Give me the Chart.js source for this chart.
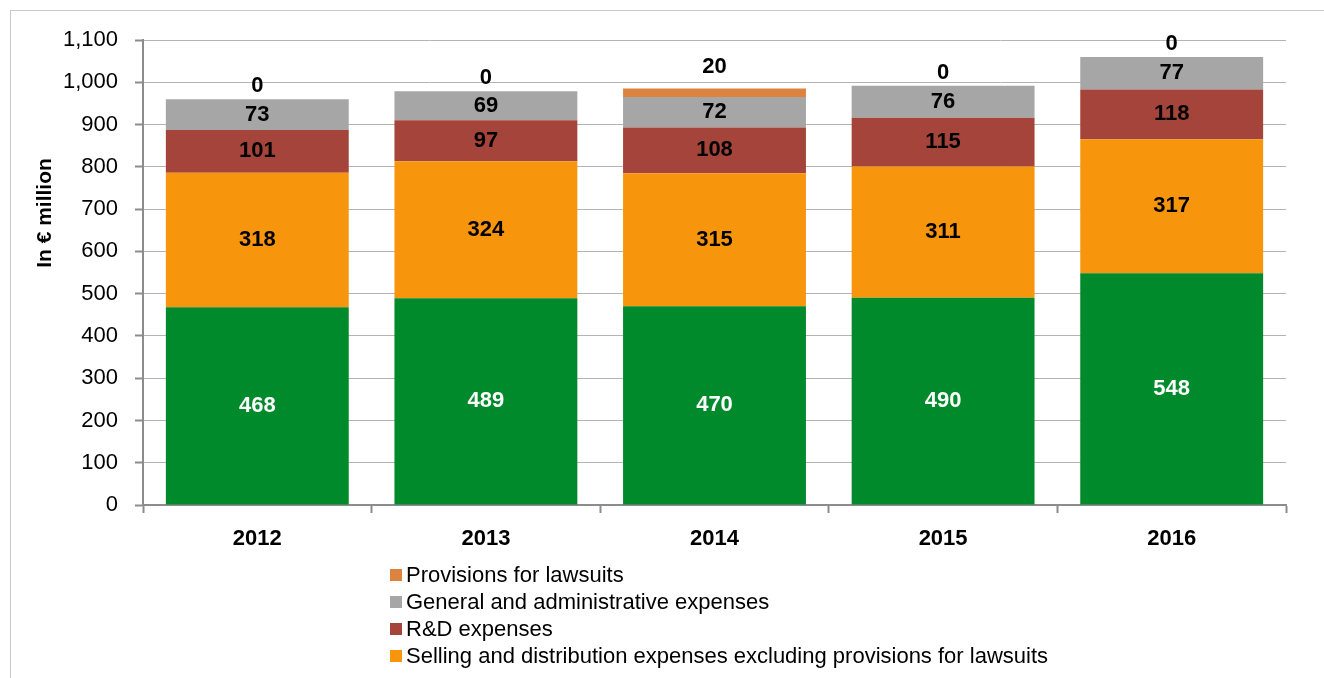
<!DOCTYPE html>
<html>
<head>
<meta charset="utf-8">
<script src="https://cdn.jsdelivr.net/npm/chart.js@4"></script>
<style>
  body { margin: 0; background: #fff; width: 1324px; height: 678px; overflow: hidden; position: relative;
         font-family: "Liberation Sans Narrow", "Arial Narrow", "Liberation Sans", sans-serif; }
  #frame { position: absolute; left: 10px; top: 10px; width: 1330px; height: 700px; border: 1px solid #c8c8c8; }
  #wrap { position: absolute; left: 0; top: 0; width: 1324px; height: 678px; }
  #legend { position: absolute; left: 390px; top: 561px; font-size: 22px; color: #000; }
  .item { height: 27px; line-height: 27px; display: flex; align-items: center; }
  .box { width: 12px; height: 12px; margin-right: 4px; }
</style>
</head>
<body>
<div id="frame"></div>
<div id="wrap"><canvas id="chart" width="1324" height="678"></canvas></div>
<div id="legend"></div>
<script>
const years = ['2012', '2013', '2014', '2015', '2016'];
const costOfSales = [468, 489, 470, 490, 548];
const selling = [318, 324, 315, 311, 317];
const rnd = [101, 97, 108, 115, 118];
const general = [73, 69, 72, 76, 77];
const lawsuits = [0, 0, 20, 0, 0];
const yTicks = [0, 100, 200, 300, 400, 500, 600, 700, 800, 900, 1000, 1100];

const FONT = '"Liberation Sans Narrow", "Arial Narrow", "Liberation Sans", sans-serif';

const datasets = [
    {label: 'Cost of sales', data: costOfSales, backgroundColor: '#008a2c', textColor: '#fff', hideLegend: true},
    {label: 'Selling and distribution expenses excluding provisions for lawsuits', data: selling, backgroundColor: '#f7960c', textColor: '#000'},
    {label: 'R&D expenses', data: rnd, backgroundColor: '#a5443a', textColor: '#000'},
    {label: 'General and administrative expenses', data: general, backgroundColor: '#a6a6a6', textColor: '#000'},
    {label: 'Provisions for lawsuits', data: lawsuits, backgroundColor: '#dc843f', textColor: '#000', above: true}
];

// legend, top-down like the original
const legendEl = document.getElementById('legend');
datasets.slice().reverse().forEach(ds => {
    if (ds.hideLegend) return;
    const row = document.createElement('div');
    row.className = 'item';
    row.innerHTML = '<span class="box" style="background:' + ds.backgroundColor + '"></span><span>' + ds.label + '</span>';
    legendEl.appendChild(row);
});

const labelPlugin = {
    id: 'segLabels',
    afterDatasetsDraw(chart) {
        const ctx = chart.ctx;
        ctx.save();
        ctx.font = 'bold 22px ' + FONT;
        ctx.textAlign = 'center';
        ctx.textBaseline = 'middle';
        chart.data.datasets.forEach((ds, i) => {
            const meta = chart.getDatasetMeta(i);
            meta.data.forEach((bar, j) => {
                const v = ds.data[j];
                let y;
                if (ds.above) {
                    const h = bar.base - bar.y;
                    y = bar.y - 13 - h;
                } else {
                    y = (bar.y + bar.base) / 2;
                }
                ctx.fillStyle = ds.textColor;
                ctx.fillText(String(v), bar.x, y);
            });
        });
        // axis title
        ctx.translate(45, 213);
        ctx.rotate(-Math.PI / 2);
        ctx.fillStyle = '#000';
        ctx.font = 'bold 21px ' + FONT;
        ctx.fillText('In € million', 0, 0);
        ctx.restore();
    }
};

new Chart(document.getElementById('chart'), {
    type: 'bar',
    data: {
        labels: years,
        datasets: datasets.map(d => ({
            label: d.label,
            data: d.data,
            backgroundColor: d.backgroundColor,
            textColor: d.textColor,
            above: d.above,
            borderWidth: 0,
            barPercentage: 0.8,
            categoryPercentage: 1
        }))
    },
    options: {
        responsive: false,
        animation: false,
        layout: {padding: {left: 10, top: 40, right: 38, bottom: 113}},
        plugins: {legend: {display: false}, tooltip: {enabled: false}},
        scales: {
            x: {
                stacked: true,
                afterFit: s => { s.height = 60; },
                border: {color: '#8c8c8c', width: 2},
                grid: {offset: true, drawOnChartArea: false, drawTicks: true, tickLength: 8, tickColor: '#8c8c8c', tickWidth: 2},
                ticks: {color: '#000', padding: 13, font: {family: FONT, size: 22, weight: 'bold'}}
            },
            y: {
                stacked: true,
                min: 0,
                max: 1100,
                afterFit: s => { s.width = 133; },
                afterBuildTicks: s => { s.ticks = yTicks.map(v => ({value: v})); },
                border: {color: '#8c8c8c', width: 2},
                grid: {color: '#b4b4b4', borderDash: [1, 2], lineWidth: 1, tickLength: 8, tickColor: '#8c8c8c', tickWidth: 2, tickBorderDash: []},
                ticks: {
                    color: '#000', padding: 17,
                    font: {family: FONT, size: 22},
                    callback: v => v.toLocaleString('en-US')
                }
            }
        }
    },
    plugins: [labelPlugin]
});
</script>
</body>
</html>
